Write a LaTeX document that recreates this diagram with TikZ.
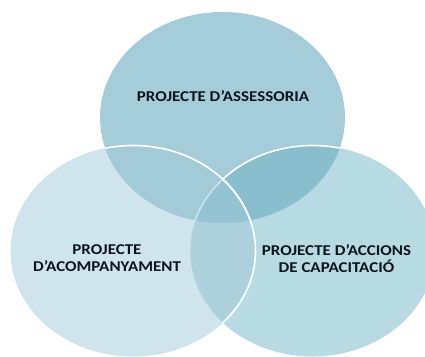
\documentclass[tikz,border=0pt]{standalone}
\usepackage{fontspec}
\setmainfont{Carlito}[FakeStretch=1.13]
\definecolor{cT}{HTML}{A5CDD9}
\definecolor{cL}{HTML}{D0E4EC}
\definecolor{cR}{HTML}{B8DAE3}
\definecolor{cTL}{HTML}{A2CBD7}
\definecolor{cTR}{HTML}{89BFCD}
\definecolor{cLR}{HTML}{ACD1DD}
\definecolor{cTLR}{HTML}{94C4D2}
\definecolor{ink}{HTML}{0B1420}
\tikzset{
  label/.style={font=\fontsize{15}{17}\selectfont\bfseries, text=ink, align=center, inner sep=0pt},
  rim/.style={draw=white, line width=1.6pt}
}
\begin{document}
\begin{tikzpicture}[x=1pt,y=-1pt]
\useasboundingbox (0,0) rectangle (425,356);
% base fills
\fill[cL] (133,251) ellipse [x radius=122.5, y radius=105.5];
\fill[cR] (312.5,251) ellipse [x radius=122.5, y radius=105.5];
\fill[cT] (222.5,117.5) ellipse [x radius=122.5, y radius=105.5];
% overlaps
\begin{scope}
  \clip (133,251) ellipse [x radius=122.5, y radius=105.5];
  \fill[cTL] (222.5,117.5) ellipse [x radius=122.5, y radius=105.5];
  \fill[cLR] (312.5,251) ellipse [x radius=122.5, y radius=105.5];
\end{scope}
\begin{scope}
  \clip (312.5,251) ellipse [x radius=122.5, y radius=105.5];
  \fill[cTR] (222.5,117.5) ellipse [x radius=122.5, y radius=105.5];
\end{scope}
\begin{scope}
  \clip (133,251) ellipse [x radius=122.5, y radius=105.5];
  \clip (312.5,251) ellipse [x radius=122.5, y radius=105.5];
  \fill[cTLR] (222.5,117.5) ellipse [x radius=122.5, y radius=105.5];
\end{scope}
% white rims of the left ellipse
\begin{scope}
  \clip (222.5,117.5) ellipse [x radius=122.5, y radius=105.5];
  \draw[rim] (133,251) ellipse [x radius=122.5, y radius=105.5];
\end{scope}
\begin{scope}
  \clip (312.5,251) ellipse [x radius=122.5, y radius=105.5];
  \draw[rim] (133,251) ellipse [x radius=122.5, y radius=105.5];
\end{scope}
% white rims of the right ellipse
\begin{scope}[even odd rule]
  \clip (222.5,117.5) ellipse [x radius=122.5, y radius=105.5]
        (133,251) ellipse [x radius=122.5, y radius=105.5];
  \clip (222.5,117.5) ellipse [x radius=122.5, y radius=105.5];
  \draw[rim] (312.5,251) ellipse [x radius=122.5, y radius=105.5];
\end{scope}
\begin{scope}
  \clip (222.5,117.5) ellipse [x radius=122.5, y radius=105.5];
  \clip (133,251) ellipse [x radius=122.5, y radius=105.5];
  \draw[rim, draw opacity=0.5] (312.5,251) ellipse [x radius=122.5, y radius=105.5];
\end{scope}
\begin{scope}[even odd rule]
  \clip (222.5,117.5) ellipse [x radius=122.5, y radius=105.5]
        (133,251) ellipse [x radius=122.5, y radius=105.5];
  \clip (133,251) ellipse [x radius=122.5, y radius=105.5];
  \draw[rim, draw opacity=0.15] (312.5,251) ellipse [x radius=122.5, y radius=105.5];
\end{scope}
% labels
\node[label] (assess) at (223,96) {PROJECTE D’ASSESSORIA};
\node[label] (acomp) at (107,258.5) {PROJECTE\\D’ACOMPANYAMENT};
\node[label] (accions) at (336.5,258.5) {PROJECTE D’ACCIONS\\DE CAPACITACIÓ};
\end{tikzpicture}
\end{document}
